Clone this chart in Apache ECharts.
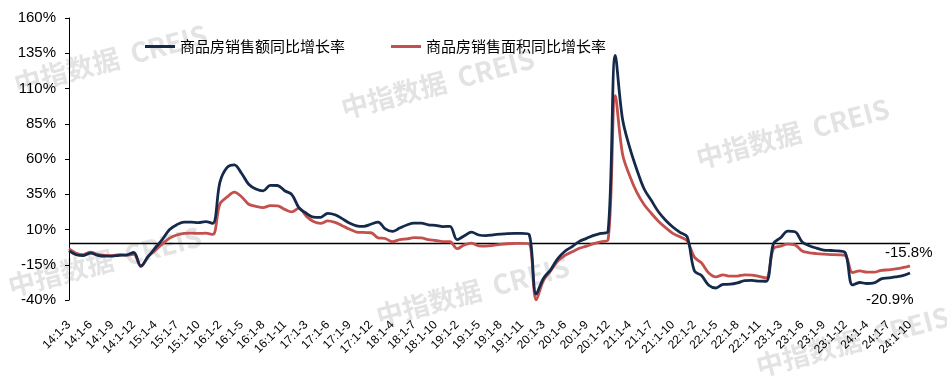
<!DOCTYPE html>
<html>
<head>
<meta charset="utf-8">
<script src="https://cdn.jsdelivr.net/npm/echarts@6/dist/echarts.min.js"></script>
<style>
html,body{margin:0;padding:0;background:#fff;}
#chart{width:947px;height:377px;}
</style>
</head>
<body>
<div id="chart"></div>
<script>
var categories = [
  '14:1-3','14:1-4','14:1-5','14:1-6','14:1-7','14:1-8','14:1-9','14:1-10','14:1-11','14:1-12',
  '15:1-2','15:1-3','15:1-4','15:1-5','15:1-6','15:1-7','15:1-8','15:1-9','15:1-10','15:1-11','15:1-12',
  '16:1-2','16:1-3','16:1-4','16:1-5','16:1-6','16:1-7','16:1-8','16:1-9','16:1-10','16:1-11','16:1-12',
  '17:1-2','17:1-3','17:1-4','17:1-5','17:1-6','17:1-7','17:1-8','17:1-9','17:1-10','17:1-11','17:1-12',
  '18:1-2','18:1-3','18:1-4','18:1-5','18:1-6','18:1-7','18:1-8','18:1-9','18:1-10','18:1-11','18:1-12',
  '19:1-2','19:1-3','19:1-4','19:1-5','19:1-6','19:1-7','19:1-8','19:1-9','19:1-10','19:1-11','19:1-12',
  '20:1-2','20:1-3','20:1-4','20:1-5','20:1-6','20:1-7','20:1-8','20:1-9','20:1-10','20:1-11','20:1-12',
  '21:1-2','21:1-3','21:1-4','21:1-5','21:1-6','21:1-7','21:1-8','21:1-9','21:1-10','21:1-11','21:1-12',
  '22:1-2','22:1-3','22:1-4','22:1-5','22:1-6','22:1-7','22:1-8','22:1-9','22:1-10','22:1-11','22:1-12',
  '23:1-2','23:1-3','23:1-4','23:1-5','23:1-6','23:1-7','23:1-8','23:1-9','23:1-10','23:1-11','23:1-12',
  '24:1-2','24:1-3','24:1-4','24:1-5','24:1-6','24:1-7','24:1-8','24:1-9','24:1-10'
];

var seriesNames = ['商品房销售额同比增长率', '商品房销售面积同比增长率'];

var salesAmount = [
  -5.2,-7.9,-8.5,-6.7,-8.3,-8.9,-8.9,-8.3,-8.1,-6.3,
  -15.8,-9.3,-3.1,3.0,10.0,13.4,15.3,15.3,14.9,15.6,14.4,
  43.6,54.1,55.9,49.9,42.1,38.7,37.4,41.3,41.2,37.5,34.8,
  25.4,21.5,18.8,18.6,21.5,20.5,17.7,14.6,12.6,12.2,13.7,
  15.3,10.4,8.6,11.0,13.2,14.5,14.5,13.3,13.0,12.1,12.2,
  2.8,5.6,8.1,6.1,5.6,6.2,6.7,7.1,7.3,7.3,6.5,
  -35.9,-24.7,-18.6,-10.6,-5.4,-2.1,1.6,3.7,5.8,7.2,8.7,
  133.4,88.5,68.2,52.4,38.9,30.7,22.6,16.6,11.8,8.0,4.8,
  -19.3,-22.7,-29.5,-31.5,-28.9,-28.8,-27.9,-26.3,-26.1,-26.6,-26.7,
  -0.1,4.1,8.8,8.4,1.1,-1.5,-3.2,-4.6,-4.9,-5.2,-6.5,
  -29.3,-27.6,-28.3,-27.9,-25.0,-24.3,-23.6,-22.7,-20.9
];

var salesArea = [
  -3.8,-6.8,-7.8,-6.0,-7.6,-8.3,-8.6,-7.8,-8.2,-7.6,
  -16.3,-9.2,-4.8,-0.2,3.9,6.1,7.2,7.5,7.2,7.4,6.5,
  28.2,33.1,36.5,33.2,27.9,26.4,25.5,26.9,26.8,24.3,22.5,
  25.1,19.5,15.7,14.3,16.1,15.0,12.7,10.3,8.2,7.9,7.7,
  4.1,3.6,1.3,2.9,3.3,4.2,4.0,2.9,2.2,1.4,1.3,
  -3.6,-0.9,0.3,-1.6,-1.8,-1.3,-0.6,-0.1,0.1,0.2,-0.1,
  -39.9,-26.3,-19.3,-12.3,-8.4,-5.8,-3.3,-1.8,0.0,1.3,2.6,
  104.9,63.8,48.1,36.3,27.7,21.5,15.9,11.3,7.3,4.8,1.9,
  -9.6,-13.8,-20.9,-23.6,-22.2,-23.1,-23.0,-22.2,-22.3,-23.3,-24.3,
  -3.6,-1.8,-0.4,-0.9,-5.3,-6.5,-7.1,-7.5,-7.8,-8.0,-8.5,
  -20.5,-19.4,-20.2,-20.3,-19.0,-18.6,-18.0,-17.1,-15.8
];

var watermarks = [
  {x: 18, y: 98}, {x: 345, y: 122}, {x: 700, y: 172}, {x: 12, y: 300}, {x: 380, y: 330}, {x: 760, y: 380}
];

var chart = echarts.init(document.getElementById('chart'), null, {renderer: 'canvas'});

var graphics = [];
watermarks.forEach(function (w) {
  graphics.push({
    type: 'text',
    x: w.x, y: w.y,
    rotation: 0.26,
    z: -10,
    silent: true,
    style: {
      text: '中指数据  CREIS',
      fill: 'rgba(170,170,170,0.33)',
      font: 'bold 27px "Noto Sans CJK SC", "Liberation Sans", sans-serif',
      textVerticalAlign: 'bottom'
    }
  });
});

var fontFamily = '"Liberation Sans", Arial, sans-serif';

chart.setOption({
  animation: false,
  backgroundColor: '#fff',
  graphic: graphics,
  legend: {
    data: seriesNames,
    left: 140,
    top: 34,
    icon: 'rect',
    itemWidth: 30,
    itemHeight: 3,
    itemGap: 46,
    textStyle: {fontSize: 15, color: '#000', fontFamily: '"Noto Sans CJK SC", sans-serif'}
  },
  grid: {left: 69, right: 37, top: 18, bottom: 77, containLabel: false},
  xAxis: {
    type: 'category',
    data: categories,
    boundaryGap: false,
    axisLine: {show: false},
    axisTick: {show: false},
    axisLabel: {
      interval: 2,
      rotate: 45,
      margin: 23,
      fontSize: 12,
      color: '#000',
      fontFamily: fontFamily
    },
    splitLine: {show: false}
  },
  yAxis: {
    type: 'value',
    min: -40,
    max: 160,
    interval: 25,
    axisLine: {show: true, lineStyle: {color: '#000', width: 1}},
    axisTick: {show: true, length: 4, inside: false, lineStyle: {color: '#000'}},
    axisLabel: {
      formatter: '{value}%',
      fontSize: 15,
      color: '#000',
      margin: 13,
      fontFamily: fontFamily
    },
    splitLine: {show: false}
  },
  series: [
    {
      name: seriesNames[0],
      type: 'line',
      data: salesAmount,
      symbol: 'none',
      smooth: 0.35,
      lineStyle: {color: '#152a4a', width: 2.8},
      itemStyle: {color: '#152a4a'},
      z: 4,
      endLabel: {
        show: true,
        formatter: function (p) { return p.value.toFixed(1) + '%'; },
        offset: [-52, 27],
        fontSize: 15,
        color: '#000',
        fontFamily: fontFamily
      },
      markLine: {
        silent: true,
        symbol: ['none', 'none'],
        label: {show: false},
        lineStyle: {color: '#000', type: 'solid', width: 1.3},
        data: [{yAxis: 0}],
        z: 1
      }
    },
    {
      name: seriesNames[1],
      type: 'line',
      data: salesArea,
      symbol: 'none',
      smooth: 0.35,
      lineStyle: {color: '#c4504e', width: 2.8},
      itemStyle: {color: '#c4504e'},
      z: 3,
      endLabel: {
        show: true,
        formatter: function (p) { return p.value.toFixed(1) + '%'; },
        offset: [-33, -13],
        fontSize: 15,
        color: '#000',
        fontFamily: fontFamily
      }
    }
  ]
});
</script>
</body>
</html>
